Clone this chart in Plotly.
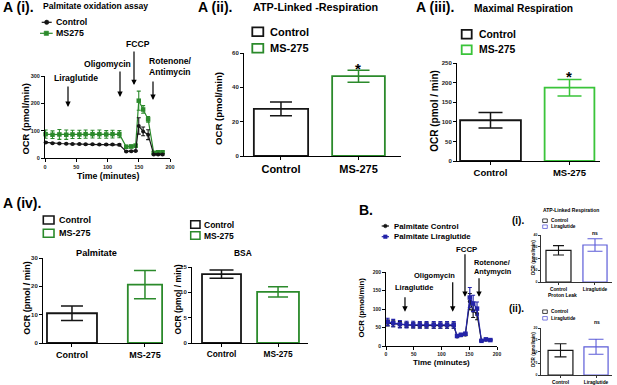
import plotly.graph_objects as go

W, H = 617, 385
FONT = "Liberation Sans, Arial, Helvetica, sans-serif"

# ---------------- data ----------------
# A (i) palmitate oxidation assay (OCR time course)
a1_time = [1, 12, 23, 34, 44, 55, 65, 76, 87, 98, 108, 119, 130, 138, 145, 150, 157, 165, 174, 181, 188]
a1_control = [58, 55, 54, 53, 52, 52, 51, 51, 50, 50, 50, 49, 25, 26, 27, 118, 98, 86, 14, 14, 14]
a1_control_err = [3, 2, 2, 2, 2, 2, 2, 2, 2, 3, 3, 3, 2, 2, 2, 30, 16, 18, 3, 3, 3]
a1_ms275 = [88, 86, 87, 86, 87, 87, 88, 88, 88, 87, 88, 88, 42, 43, 46, 210, 178, 142, 20, 22, 22]
a1_ms275_err = [15, 14, 18, 17, 15, 15, 15, 14, 15, 14, 14, 13, 5, 5, 5, 35, 14, 10, 4, 4, 4]

# A (ii) ATP-linked respiration
a2_groups = ["Control", "MS-275"]
a2_values = [27.5, 46.5]
a2_err = [4.0, 3.5]

# A (iii) maximal respiration
a3_groups = ["Control", "MS-275"]
a3_values = [104, 187]
a3_err = [19.5, 21]

# A (iv) palmitate / BSA
a4_groups = ["Control", "MS-275"]
a4_palmitate = [10.5, 20.6]
a4_palmitate_err = [2.6, 5.0]
a4_bsa = [13.6, 10.1]
a4_bsa_err = [0.8, 1.0]

# B time course
b_time = [3, 13, 25, 37, 49, 61, 73, 86, 98, 110, 122, 128, 135, 143, 151, 157, 164, 172, 180, 188]
b_control = [62, 60, 58, 57, 56, 56, 56, 55, 55, 55, 55, 26, 29, 31, 120, 95, 87, 14, 17, 16]
b_control_err = [8, 8, 8, 7, 7, 7, 7, 7, 7, 7, 7, 3, 3, 3, 22, 18, 16, 2, 2, 2]
b_lira = [65, 62, 59, 58, 58, 57, 57, 57, 57, 57, 57, 27, 30, 33, 131, 115, 101, 14, 18, 16]
b_lira_err = [10, 10, 10, 9, 9, 9, 9, 9, 9, 9, 9, 4, 4, 4, 27, 22, 18, 2, 2, 2]

# B (i) ATP-linked respiration, B (ii) proton leak
b_groups = ["Control", "Liraglutide"]
bi_values = [27.0, 31.5]
bi_err = [4.0, 5.3]
bii_values = [10.5, 12.0]
bii_err = [2.8, 3.2]

# ---------------- style ----------------
BLACK = "#151515"
GREEN_D = "#2b8a2b"
GREEN_L = "#3ac43a"
BLUE_D = "#2323a8"
BLUE_L = "#5c5cd8"


def px(x):
    return x / W


def py(y):
    return 1 - y / H


def xdom(x0, x1):
    return [px(x0), px(x1)]


def ydom(top, bottom):
    return [py(bottom), py(top)]


fig = go.Figure()


def add_line(x, y, err, color, symbol, size, xa, ya):
    fig.add_trace(go.Scatter(
        x=x, y=y, mode="lines+markers", xaxis=xa, yaxis=ya,
        line=dict(color=color, width=1.2),
        marker=dict(symbol=symbol, size=size, color=color),
        error_y=dict(type="data", array=err, color=color, thickness=1.1, width=2),
        showlegend=False, cliponaxis=False, hoverinfo="skip"))


def add_bars(groups, values, errs, colors, widths, caps, xa, ya, lw=1.8, eth=1.5):
    for g, v, e, c, w, cw in zip(groups, values, errs, colors, widths, caps):
        fig.add_trace(go.Bar(
            x=[g], y=[v], width=[w], xaxis=xa, yaxis=ya,
            marker=dict(color="white", line=dict(color=c, width=lw)),
            error_y=dict(type="data", array=[e], color=c, thickness=eth, width=cw),
            showlegend=False, hoverinfo="skip"))


# A (i)
add_line(a1_time, a1_ms275, a1_ms275_err, GREEN_D, "square", 4.5, "x", "y")
add_line(a1_time, a1_control, a1_control_err, BLACK, "circle", 4, "x", "y")
# A (ii)
add_bars(a2_groups, a2_values, a2_err, [BLACK, GREEN_D], [0.70, 0.68], [11, 11], "x2", "y2")
# A (iii)
add_bars(a3_groups, a3_values, a3_err, [BLACK, GREEN_L], [0.77, 0.63], [12, 12], "x3", "y3")
# A (iv)
add_bars(a4_groups, a4_palmitate, a4_palmitate_err, [BLACK, GREEN_D], [0.685, 0.47], [11, 11], "x4", "y4")
add_bars(a4_groups, a4_bsa, a4_bsa_err, [BLACK, GREEN_D], [0.69, 0.74], [12, 10], "x5", "y5")
# B
add_line(b_time, b_control, b_control_err, BLACK, "circle", 4, "x6", "y6")
add_line(b_time, b_lira, b_lira_err, BLUE_D, "square", 4.5, "x6", "y6")
# B (i), B (ii)
add_bars(b_groups, bi_values, bi_err, [BLACK, BLUE_L], [0.685, 0.66], [5.5, 7.5], "x7", "y7", lw=1.2, eth=1.1)
add_bars(b_groups, bii_values, bii_err, [BLACK, BLUE_L], [0.70, 0.68], [6, 7.5], "x8", "y8", lw=1.2, eth=1.1)

base = dict(showline=True, linecolor="black", linewidth=1, ticks="outside", ticklen=3,
            tickwidth=1, tickcolor="black", showgrid=False, zeroline=False,
            automargin=False, fixedrange=True)


def numfont(size=6):
    return dict(family=FONT, size=size, color="#222", weight="bold")


def catfont(size):
    return dict(family=FONT, size=size, color="black", weight="bold")


layout_axes = {
    # A (i)
    "xaxis": dict(base, domain=xdom(45, 170), range=[0, 200], tickvals=[0, 50, 100, 150, 200],
                  tickfont=numfont(5.5), anchor="y"),
    "yaxis": dict(base, domain=ydom(76, 158.3), range=[0, 300], tickvals=[0, 100, 200, 300],
                  tickfont=numfont(5.5), anchor="x"),
    # A (ii)
    "xaxis2": dict(base, domain=xdom(244, 401), range=[-0.477, 1.548], type="category",
                   tickfont=catfont(11), anchor="y2"),
    "yaxis2": dict(base, domain=ydom(53, 156), range=[0, 60], tickvals=[0, 20, 40, 60],
                   tickfont=numfont(6), anchor="x2"),
    # A (iii)
    "xaxis3": dict(base, domain=xdom(457, 600), range=[-0.424, 1.386], type="category",
                   tickfont=catfont(9.5), anchor="y3"),
    "yaxis3": dict(base, domain=ydom(63, 161), range=[0, 250], tickvals=[0, 50, 100, 150, 200, 250],
                   tickfont=numfont(6), anchor="x3"),
    # A (iv) palmitate
    "xaxis4": dict(base, domain=xdom(43, 163), range=[-0.397, 1.247], type="category",
                   tickfont=catfont(9), anchor="y4"),
    "yaxis4": dict(base, domain=ydom(258, 343), range=[0, 30], tickvals=[0, 10, 20, 30],
                   tickfont=numfont(6), anchor="x4"),
    # A (iv) BSA
    "xaxis5": dict(base, domain=xdom(192, 308), range=[-0.522, 1.53], type="category",
                   tickfont=catfont(8.3), anchor="y5"),
    "yaxis5": dict(base, domain=ydom(267, 343), range=[0, 15], tickvals=[0, 5, 10, 15],
                   tickfont=numfont(6), anchor="x5"),
    # B
    "xaxis6": dict(base, domain=xdom(386, 497), range=[0, 200], tickvals=[0, 50, 100, 150, 200],
                   tickfont=numfont(5), anchor="y6"),
    "yaxis6": dict(base, domain=ydom(272, 346), range=[0, 200], tickvals=[0, 50, 100, 150, 200],
                   tickfont=numfont(5), anchor="x6"),
    # B (i)
    "xaxis7": dict(base, domain=xdom(541, 612), range=[-0.479, 1.466], type="category",
                   tickfont=catfont(4.8), anchor="y7", ticklen=2, linewidth=0.8, tickwidth=0.8),
    "yaxis7": dict(base, domain=ydom(235, 282), range=[0, 40], tickvals=[0, 10, 20, 30, 40],
                   tickfont=numfont(3.5), anchor="x7", ticklen=2, linewidth=0.8, tickwidth=0.8),
    # B (ii)
    "xaxis8": dict(base, domain=xdom(541, 612), range=[-0.549, 1.45], type="category",
                   tickfont=catfont(4.8), anchor="y8", ticklen=2, linewidth=0.8, tickwidth=0.8),
    "yaxis8": dict(base, domain=ydom(328, 375), range=[0, 20], tickvals=[0, 5, 10, 15, 20],
                   tickfont=numfont(3.5), anchor="x8", ticklen=2, linewidth=0.8, tickwidth=0.8),
}

fig.update_layout(
    width=W, height=H, margin=dict(l=0, r=0, t=0, b=0),
    paper_bgcolor="white", plot_bgcolor="white",
    barmode="overlay", showlegend=False,
    font=dict(family=FONT, color="black"),
    **layout_axes,
)


# ---------------- text helpers ----------------
def txt(s, x, y, size, xanchor="center", yanchor="middle", angle=0, bold=True, align="left"):
    fig.add_annotation(
        text=f"<b>{s}</b>" if bold else s, x=px(x), y=py(y), xref="paper", yref="paper",
        showarrow=False, font=dict(family=FONT, size=size, color="black"),
        xanchor=xanchor, yanchor=yanchor, textangle=angle, align=align, borderpad=0)


def arrow(x, y, ay, xa, ya):
    fig.add_annotation(x=x, y=y, xref=xa, yref=ya, ax=0, ay=ay, text="", showarrow=True,
                       arrowhead=2, arrowsize=0.9, arrowwidth=1.2, arrowcolor="black")


def box_legend(x0, x1, yc, h, color, lw, label, tx, size):
    fig.add_shape(type="rect", xref="paper", yref="paper", x0=px(x0), x1=px(x1),
                  y0=py(yc + h / 2), y1=py(yc - h / 2), line=dict(color=color, width=lw),
                  fillcolor="white")
    txt(label, tx, yc, size, xanchor="left")


def line_legend(x0, x1, yc, color, symbol, label, tx, size, ms=2.2):
    fig.add_shape(type="line", xref="paper", yref="paper", x0=px(x0), x1=px(x1),
                  y0=py(yc), y1=py(yc), line=dict(color=color, width=1.2))
    xc = (x0 + x1) / 2
    kind = "circle" if symbol == "circle" else "rect"
    fig.add_shape(type=kind, xref="paper", yref="paper", x0=px(xc - ms), x1=px(xc + ms),
                  y0=py(yc + ms), y1=py(yc - ms), line=dict(color=color, width=0.5),
                  fillcolor=color)
    txt(label, tx, yc, size, xanchor="left")


# ---------------- A (i) ----------------
txt("A (i).", 2, 7, 14, xanchor="left")
txt("Palmitate oxidation assay", 42, 6.5, 8.6, xanchor="left")
line_legend(41.7, 51.7, 22.3, BLACK, "circle", "Control", 55, 8.8)
line_legend(40, 52.7, 33.3, GREEN_D, "square", "MS275", 55, 8.8)
txt("OCR (pmol/min)", 25, 119.5, 9.4, angle=-90)
txt("Time (minutes)", 107.5, 175.5, 8.8)
txt("Liraglutide", 76, 78, 8.6)
txt("Oligomycin", 107.5, 64, 8.6)
txt("FCCP", 137.5, 44, 8.6)
txt("Rotenone/<br>Antimycin", 148, 66.5, 8.6, xanchor="left")
arrow(36.8, 187, -22, "x", "y")
arrow(120, 223.5, -27, "x", "y")
arrow(142.4, 267, -35, "x", "y")
arrow(172.8, 212.5, -20, "x", "y")

# ---------------- A (ii) ----------------
txt("A (ii).", 197, 7, 14, xanchor="left")
txt("ATP-Linked -Respiration", 252, 7, 10.8, xanchor="left")
box_legend(252.3, 263.3, 31.7, 8.7, BLACK, 1.8, "Control", 268.5, 11)
box_legend(252.3, 263.3, 48.3, 8.7, GREEN_D, 1.8, "MS-275", 268.5, 11)
txt("OCR (pmol/min)", 218, 109, 9.6, angle=-90)
txt("*", 358, 68, 15)

# ---------------- A (iii) ----------------
txt("A (iii).", 415, 7, 14, xanchor="left")
txt("Maximal Respiration", 473, 8.5, 10.2, xanchor="left")
box_legend(461.7, 471.7, 34.3, 8.7, BLACK, 1.8, "Control", 478, 10.4)
box_legend(461.7, 471.7, 49.7, 8.7, GREEN_L, 1.8, "MS-275", 478, 10.4)
txt("OCR (pmol / min)", 435, 110.8, 10, angle=-90)
txt("*", 569, 76, 15)

# ---------------- A (iv) ----------------
txt("A (iv).", 2, 203, 14, xanchor="left")
box_legend(43.3, 54, 220, 8, BLACK, 1.6, "Control", 58, 9)
box_legend(43.3, 54, 233.3, 8, GREEN_D, 1.6, "MS-275", 58, 9)
txt("Palmitate", 96.5, 253.3, 9.2)
txt("OCR (pmol / min)", 26.7, 298, 9, angle=-90)
box_legend(190.7, 200, 224.5, 7.5, BLACK, 1.5, "Control", 203, 8.5)
box_legend(190.7, 200, 235.5, 7.5, GREEN_D, 1.5, "MS-275", 203, 8.5)
txt("BSA", 243, 253, 8.4)
txt("OCR (pmol / min)", 177.5, 300, 8.6, angle=-90)

# ---------------- B ----------------
txt("B.", 358, 210, 14, xanchor="left")
line_legend(381.7, 389, 226, BLACK, "circle", "Palmitate Control", 393.3, 7.8, ms=1.8)
line_legend(381.7, 389, 236.7, BLUE_D, "square", "Palmitate Liraglutide", 393.3, 7.8, ms=1.8)
txt("OCR (pmol/min)", 361, 307.5, 7.8, angle=-90)
txt("Time (minutes)", 441.5, 362, 8)
txt("Liraglutide", 414, 287.7, 7.5)
txt("Oligomycin", 434.5, 275.7, 7.5)
txt("FCCP", 466.5, 249, 7.8)
txt("Rotenone/<br>Antymycin", 473, 267, 7.3, xanchor="left")
arrow(34.2, 92.7, -16, "x6", "y6")
arrow(120.2, 92.7, -31, "x6", "y6")
arrow(142.3, 133, -44, "x6", "y6")
arrow(167.6, 133, -20, "x6", "y6")

# ---------------- B (i) / (ii) ----------------
txt("(i).", 511, 220, 10, xanchor="left")
txt("ATP-Linked Respiration", 542, 210, 5, xanchor="left")
box_legend(542.7, 547.3, 220.7, 3.5, BLACK, 0.8, "Control", 550, 4.8)
box_legend(542.7, 547.3, 226.7, 3.5, BLUE_L, 0.8, "Liraglutide", 550, 4.8)
txt("OCR (pmol/min)", 533.3, 258, 4.6, angle=-90)
txt("ns", 595, 233, 5)
txt("Proton Leak", 547, 294.5, 5, xanchor="left")

txt("(ii).", 508, 308, 10, xanchor="left")
box_legend(542.7, 547.3, 311.7, 3.5, BLACK, 0.8, "Control", 550, 4.8)
box_legend(542.7, 547.3, 318.3, 3.5, BLUE_L, 0.8, "Liraglutide", 550, 4.8)
txt("OCR (pmol/min)", 533.3, 350, 4.6, angle=-90)
txt("ns", 596.7, 322, 5)

# remove the default page margin so the figure sits at the window's top-left corner
fig.write_html(
    "out.html",
    config={"displayModeBar": False, "staticPlot": True},
    post_script="document.body.style.margin='0px';document.body.style.padding='0px';"
                "document.body.style.overflow='hidden';",
)
